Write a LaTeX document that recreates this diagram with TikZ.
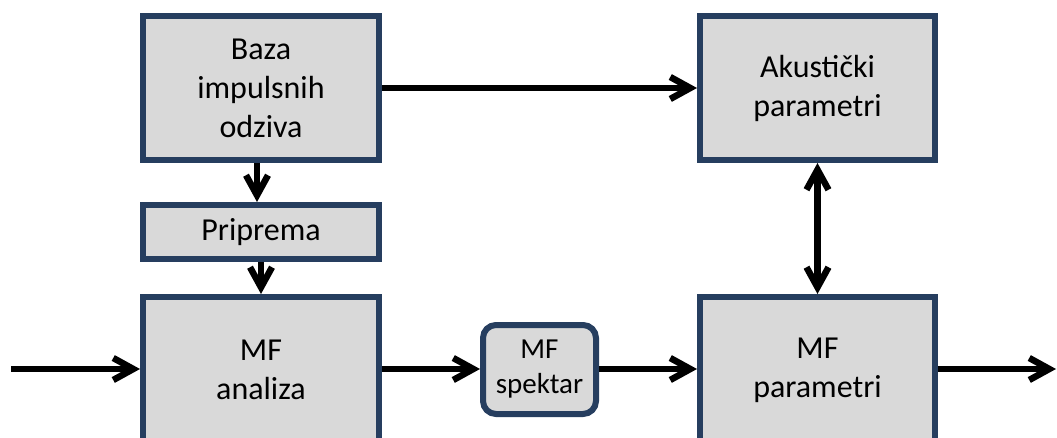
\documentclass[tikz,border=0pt]{standalone}
\usepackage{fontspec}
\setmainfont{Carlito}
\usetikzlibrary{arrows.meta}
\definecolor{okvir}{RGB}{38,62,95}
\definecolor{ispuna}{RGB}{217,217,217}

\begin{document}
\begin{tikzpicture}[x=1pt, y=-1pt, >={Straight Barb[length=20pt, width=22pt]},
	blok/.style={draw=okvir, fill=ispuna, line width=6pt, align=center, inner sep=0pt, font=\fontsize{32}{39}\selectfont},
	strelica/.style={->, black, line width=6.5pt}]
	% 1. 画布大小
	\useasboundingbox (0,0) rectangle (1057,438);
	
	% 2. 方框
	\node[blok, minimum width=236pt, minimum height=144pt] (baza) at (261, 88) {Baza\\impulsnih\\odziva};
	\node[blok, minimum width=236pt, minimum height=54pt] (priprema) at (261, 232) {Priprema};
	\node[blok, minimum width=236pt, minimum height=146pt] (analiza) at (261, 370) {MF\\analiza};
	\node[blok, minimum width=113pt, minimum height=89pt, rounded corners=13pt, font=\fontsize{29}{35}\selectfont] (spektar) at (539.5, 369.5) {MF\\spektar};
	\node[blok, minimum width=235pt, minimum height=144pt] (akusticki) at (817.5, 88) {Akustički\\parametri};
	\node[blok, minimum width=235pt, minimum height=146pt] (parametri) at (817.5, 370) {MF\\parametri};
	
	% 3. 输入输出端点
	\coordinate (ulaz) at (11, 369);
	\coordinate (izlaz) at (1056, 369);
	
	% 4. 箭头
	\draw[strelica] ([xshift=-4pt]baza.south) -- ([xshift=-4pt]priprema.north);
	\draw[strelica] (priprema.south) -- (analiza.north);
	\draw[strelica] (baza.east) -- (akusticki.west);
	\draw[strelica, <->] (akusticki.south) -- (parametri.north);
	\draw[strelica] (ulaz) -- (analiza.west |- ulaz);
	\draw[strelica] (analiza.east |- ulaz) -- (spektar.west |- ulaz);
	\draw[strelica] (spektar.east |- ulaz) -- (parametri.west |- ulaz);
	\draw[strelica] (parametri.east |- ulaz) -- (izlaz);
\end{tikzpicture}
\end{document}
